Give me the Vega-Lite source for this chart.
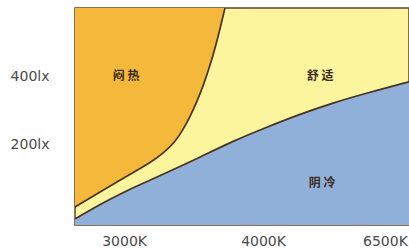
{
  "$schema": "https://vega.github.io/schema/vega-lite/v6.json",
  "width": 334,
  "height": 217,
  "autosize": "none",
  "padding": {"left": 75, "top": 8, "right": 0, "bottom": 24},
  "background": "white",
  "view": {"fill": "#fdf59d", "stroke": "#5e4430", "strokeWidth": 1.5},
  "datasets": {
    "curves": [
      {"curve": "upper", "pos": 0, "lux": 15},
      {"curve": "upper", "pos": 7.5, "lux": 59},
      {"curve": "upper", "pos": 15.0, "lux": 103},
      {"curve": "upper", "pos": 22.5, "lux": 144},
      {"curve": "upper", "pos": 26.9, "lux": 177},
      {"curve": "upper", "pos": 29.9, "lux": 206},
      {"curve": "upper", "pos": 32.3, "lux": 241},
      {"curve": "upper", "pos": 34.4, "lux": 280},
      {"curve": "upper", "pos": 36.5, "lux": 324},
      {"curve": "upper", "pos": 38.6, "lux": 377},
      {"curve": "upper", "pos": 40.4, "lux": 430},
      {"curve": "upper", "pos": 42.2, "lux": 491},
      {"curve": "upper", "pos": 43.7, "lux": 550},
      {"curve": "upper", "pos": 44.9, "lux": 600},
      {"curve": "lower", "pos": 0, "lux": -20},
      {"curve": "lower", "pos": 4.5, "lux": 6},
      {"curve": "lower", "pos": 10.5, "lux": 38},
      {"curve": "lower", "pos": 16.5, "lux": 68},
      {"curve": "lower", "pos": 22.5, "lux": 94},
      {"curve": "lower", "pos": 29.9, "lux": 127},
      {"curve": "lower", "pos": 37.4, "lux": 161},
      {"curve": "lower", "pos": 47.3, "lux": 209},
      {"curve": "lower", "pos": 57.5, "lux": 250},
      {"curve": "lower", "pos": 67.4, "lux": 288},
      {"curve": "lower", "pos": 77.2, "lux": 321},
      {"curve": "lower", "pos": 87.4, "lux": 350},
      {"curve": "lower", "pos": 100, "lux": 383}
    ],
    "labels": [
      {"pos": 15.3, "lux": 400, "text": "闷 热"},
      {"pos": 73.4, "lux": 400, "text": "舒 适"},
      {"pos": 74, "lux": 86, "text": "阴 冷"}
    ]
  },
  "encoding": {
    "x": {
      "field": "pos",
      "type": "quantitative",
      "scale": {"domain": [0, 100], "nice": false, "zero": false},
      "axis": {
        "title": null,
        "values": [14.7, 56.3, 92.8],
        "labelExpr": "datum.value < 30 ? '3000K' : (datum.value < 70 ? '4000K' : '6500K')",
        "domain": false,
        "ticks": false,
        "tickSize": 0,
        "grid": false,
        "labelPadding": 9,
        "labelFont": "DejaVu Sans",
        "labelFontSize": 14,
        "labelColor": "#4a4a4a",
        "labelBaseline": "top",
        "labelFlush": false
      }
    },
    "y": {
      "field": "lux",
      "type": "quantitative",
      "scale": {"domain": [-38, 600], "nice": false, "zero": false},
      "axis": {
        "title": null,
        "values": [200, 400],
        "labelExpr": "datum.value + 'lx'",
        "domain": false,
        "ticks": false,
        "tickSize": 0,
        "grid": false,
        "labelPadding": 26,
        "labelFont": "DejaVu Sans",
        "labelFontSize": 14,
        "labelColor": "#4a4a4a"
      }
    }
  },
  "layer": [
    {
      "data": {"name": "curves"},
      "transform": [{"filter": "datum.curve === 'upper'"}],
      "mark": {"type": "area", "interpolate": "basis", "color": "#f4b93a", "clip": true},
      "encoding": {"y2": {"datum": 600}}
    },
    {
      "data": {"name": "curves"},
      "transform": [{"filter": "datum.curve === 'lower'"}],
      "mark": {"type": "area", "interpolate": "basis", "color": "#91b0d9", "clip": true},
      "encoding": {"y2": {"datum": -38}}
    },
    {
      "data": {"name": "curves"},
      "mark": {"type": "line", "interpolate": "basis", "color": "#4a321e", "strokeWidth": 1.7, "clip": true},
      "encoding": {"detail": {"field": "curve"}}
    },
    {
      "data": {"name": "labels"},
      "mark": {"type": "text", "font": "Noto Sans CJK SC", "fontSize": 12, "fontWeight": "bold", "color": "#3a2b1e"},
      "encoding": {"text": {"field": "text"}}
    }
  ]
}
